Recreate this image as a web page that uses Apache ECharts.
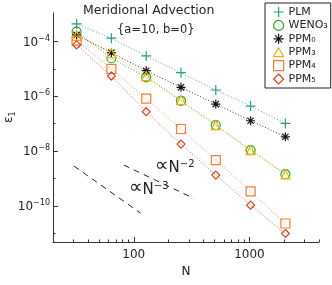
<!DOCTYPE html>
<html><head><meta charset="utf-8">
<script src="https://cdn.jsdelivr.net/npm/echarts@6/dist/echarts.min.js"></script>
<style>html,body{margin:0;padding:0;background:#fff;overflow:hidden}#c{width:332px;height:285px}</style>
</head><body><div id="c"></div>
<script>
const N = [32, 64, 128, 256, 512, 1024, 2048];
const PLM = [4.4e-4, 1.32e-4, 2.97e-5, 7.3e-6, 1.7e-6, 4.4e-7, 1.02e-7];
const WENO3 = [2.3e-4, 2.45e-5, 4.95e-6, 6.8e-7, 8.9e-8, 1.09e-8, 1.44e-9];
const PPM0 = [1.74e-4, 3.93e-5, 8.6e-6, 2.13e-6, 5.2e-7, 1.28e-7, 3.33e-8];
const PPM3 = [1.6e-4, 3.73e-5, 5.5e-6, 7.3e-7, 8.8e-8, 1.08e-8, 1.42e-9];
const PPM4 = [1.08e-4, 1.0e-5, 8.3e-7, 6.4e-8, 4.7e-9, 3.4e-10, 2.27e-11];
const PPM5 = [7.5e-5, 5.5e-6, 2.74e-7, 1.8e-8, 1.33e-9, 1.06e-10, 9.8e-12];
const refN2_N = [82, 329], refN2_e = [3.08e-9, 1.9e-10];
const refN3_N = [30.4, 114], refN3_e = [2.83e-9, 5.5e-11];
const xMajor = [100, 1000];
const xMinor = [20,30,40,50,60,70,80,90,200,300,400,500,600,700,800,900,2000,3000,4000];
const yMajor = [1e-4, 1e-6, 1e-8, 1e-10];
const yMinor = [1e-5, 1e-7, 1e-9, 1e-11];

const FONT = 'DejaVu Sans';
const SYM = {
  plus: 'path://M5 0V10M0 5H10',
  circle: 'path://M5 0A5 5 0 1 1 4.999 0Z',
  star: 'path://M5 0V10M0 5H10M1.5 1.5L8.5 8.5M8.5 1.5L1.5 8.5',
  tri: 'path://M5 0L10 9L0 9Z',
  rect: 'path://M0 0H10V10H0Z',
  diam: 'path://M5 0L10 5L5 10L0 5Z'
};
const defs = [
  {name: 'PLM', data: PLM, color: '#2b9a88', sym: SYM.plus, size: 10},
  {name: 'WENO\u2083', data: WENO3, color: '#2fa12a', sym: SYM.circle, size: 9},
  {name: 'PPM\u2080', data: PPM0, color: '#111111', sym: SYM.star, size: 9},
  {name: 'PPM\u2083', data: PPM3, color: '#eab500', sym: SYM.tri, size: 9},
  {name: 'PPM\u2084', data: PPM4, color: '#ef7d3c', sym: SYM.rect, size: 9},
  {name: 'PPM\u2085', data: PPM5, color: '#d6432a', sym: SYM.diam, size: 8}
];
const series = defs.map(d => ({
  name: d.name, type: 'line', xAxisIndex: 0, yAxisIndex: 0,
  data: N.map((n, i) => [n, d.data[i]]),
  symbol: d.sym, symbolSize: d.size, showSymbol: true,
  itemStyle: {color: 'rgba(0,0,0,0)', borderColor: d.color, borderWidth: 1.2},
  lineStyle: {color: d.color, width: 1, type: [1, 2], opacity: 0.85},
  emphasis: {disabled: true}, animation: false, z: 3
}));
function refLine(xs, ys) {
  return {type: 'line', xAxisIndex: 0, yAxisIndex: 0, data: xs.map((x, i) => [x, ys[i]]),
    symbol: 'none', lineStyle: {color: '#222', width: 1, type: [6, 5]}, silent: true, animation: false};
}
series.push(refLine(refN2_N, refN2_e), refLine(refN3_N, refN3_e));

const axisCol = '#333';
const chart = echarts.init(document.getElementById('c'), null, {renderer: 'canvas'});
const richAnn = {
  p: {fontFamily: FONT, fontSize: 19, lineHeight: 16, padding: [5, 0, 0, 0], verticalAlign: 'bottom', fill: '#222'},
  n: {fontFamily: FONT, fontSize: 15, lineHeight: 16, padding: [5, 0, 0, 0], verticalAlign: 'bottom', fill: '#222'},
  s: {fontFamily: FONT, fontSize: 10, lineHeight: 10, verticalAlign: 'top', fill: '#222'}
};
chart.setOption({
  animation: false,
  grid: {left: 53, right: 13, top: 13, bottom: 43},
  xAxis: [
    {type: 'log', min: 20, max: 4000, logBase: 10,
     name: 'N', nameLocation: 'middle', nameGap: 21,
     nameTextStyle: {fontFamily: FONT, fontSize: 12, color: '#222'},
     axisLine: {lineStyle: {color: axisCol, width: 1}},
     axisTick: {inside: true, length: 5, customValues: xMajor, lineStyle: {color: axisCol}},
     axisLabel: {customValues: xMajor, margin: 7, fontFamily: FONT, fontSize: 12, color: '#222',
       formatter: v => String(Math.round(v))},
     splitLine: {show: false}},
    {type: 'log', min: 20, max: 4000, logBase: 10, position: 'bottom', gridIndex: 0,
     axisLine: {show: false},
     axisTick: {inside: true, length: 2.5, customValues: xMinor, lineStyle: {color: axisCol}},
     axisLabel: {show: false}, splitLine: {show: false}}
  ],
  yAxis: [
    {type: 'log', min: 4.8e-12, max: 1.1e-3, logBase: 10,
     axisLine: {show: true, lineStyle: {color: axisCol, width: 1}},
     axisTick: {show: true, inside: true, length: 5, customValues: yMajor, lineStyle: {color: axisCol}},
     axisLabel: {customValues: yMajor, margin: 3, color: '#222',
       formatter: v => '{b|10}{s|\u2212' + Math.round(-Math.log10(v)) + '}',
       rich: {
         b: {fontFamily: FONT, fontSize: 12, lineHeight: 14, padding: [3, 0, 0, 0], verticalAlign: 'bottom', color: '#222'},
         s: {fontFamily: FONT, fontSize: 8, lineHeight: 8, verticalAlign: 'top', color: '#222'}
       }},
     splitLine: {show: false}},
    {type: 'log', min: 4.8e-12, max: 1.1e-3, logBase: 10, position: 'left', gridIndex: 0,
     axisLine: {show: false},
     axisTick: {show: true, inside: true, length: 2.5, customValues: yMinor, lineStyle: {color: axisCol}},
     axisLabel: {show: false}, splitLine: {show: false}}
  ],
  legend: {
    orient: 'vertical', left: 265, top: 3,
    padding: [3, 3, 3, 8], itemWidth: 10, itemHeight: 10, itemGap: 1.4,
    borderColor: '#222', borderWidth: 1, backgroundColor: '#fff',
    selectedMode: false,
    textStyle: {fontFamily: FONT, fontSize: 11, lineHeight: 12, color: '#222'},
    data: defs.map(d => ({name: d.name, icon: d.sym,
      itemStyle: {color: 'rgba(0,0,0,0)', borderColor: d.color, borderWidth: 1.2}}))
  },
  graphic: [
    {type: 'text', x: 83, y: 4, silent: true,
     style: {text: 'Meridional Advection', fontFamily: FONT, fontSize: 12.5, fill: '#222'}},
    {type: 'text', x: 117, y: 24, silent: true,
     style: {text: '{a=10, b=0}', fontFamily: FONT, fontSize: 11.5, fill: '#222'}},
    {type: 'text', x: 3, y: 123, rotation: Math.PI / 2, silent: true,
     style: {text: '{e|\u03b5}{s|1}', verticalAlign: 'top',
       rich: {e: {fontFamily: FONT, fontSize: 12, lineHeight: 13, fill: '#222', verticalAlign: 'top'},
              s: {fontFamily: FONT, fontSize: 8, lineHeight: 8, padding: [6, 0, 0, 0], fill: '#222', verticalAlign: 'top'}}}},
    {type: 'text', x: 155, y: 159.5, silent: true,
     style: {text: '{p|\u221d}{n|N}{s|\u22122}', verticalAlign: 'top', rich: richAnn}},
    {type: 'text', x: 129, y: 181.5, silent: true,
     style: {text: '{p|\u221d}{n|N}{s|\u22123}', verticalAlign: 'top', rich: richAnn}}
  ],
  series: series
});
</script></body></html>
